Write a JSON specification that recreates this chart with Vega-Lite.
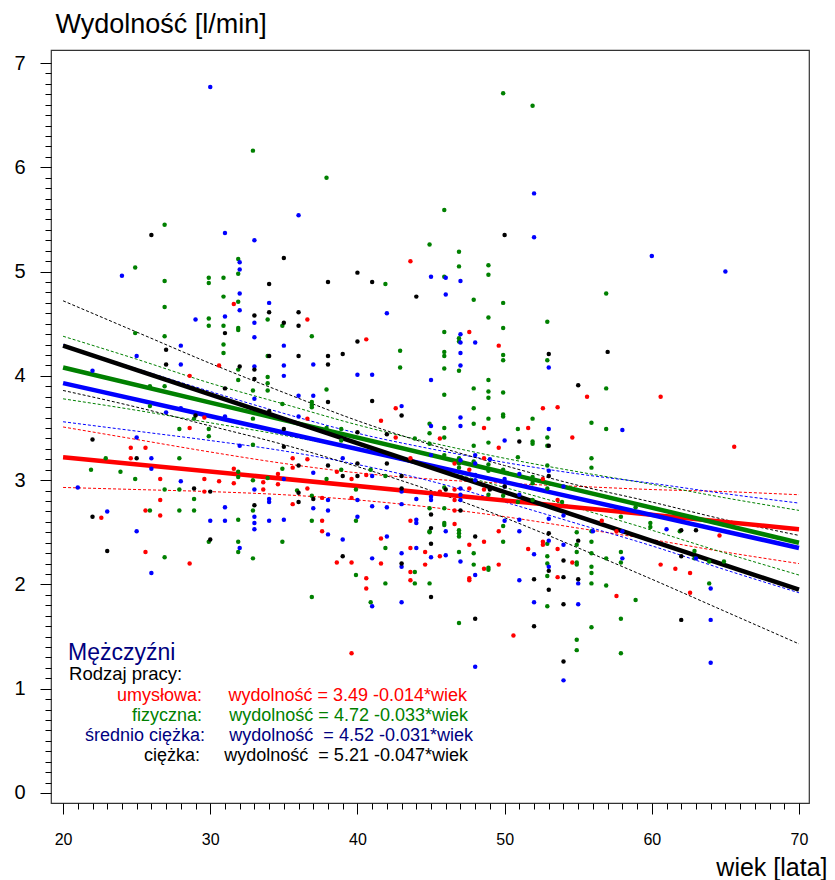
{
  "$schema": "https://vega.github.io/schema/vega-lite/v6.json",
  "width": 758,
  "height": 753,
  "autosize": {"type": "none"},
  "padding": {"left": 51, "top": 50, "right": 26, "bottom": 77},
  "background": "white",
  "config": {
    "view": {"stroke": "#333333", "strokeWidth": 1.2},
    "font": "Liberation Sans",
    "text": {"font": "Liberation Sans"}
  },
  "datasets": {
    "lines": [
      {"g": "u", "w": 20, "v": 3.22}, {"g": "u", "w": 70, "v": 2.53},
      {"g": "f", "w": 20, "v": 4.08}, {"g": "f", "w": 70, "v": 2.40},
      {"g": "s", "w": 20, "v": 3.93}, {"g": "s", "w": 70, "v": 2.35},
      {"g": "c", "w": 20, "v": 4.29}, {"g": "c", "w": 70, "v": 1.95}
    ],
    "bands": [
      {"g":"u","b":"hi","w":20,"v":3.51},{"g":"u","b":"hi","w":25,"v":3.39},{"g":"u","b":"hi","w":30,"v":3.27},{"g":"u","b":"hi","w":35,"v":3.16},{"g":"u","b":"hi","w":40,"v":3.07},{"g":"u","b":"hi","w":45,"v":3.01},{"g":"u","b":"hi","w":50,"v":2.97},{"g":"u","b":"hi","w":55,"v":2.94},{"g":"u","b":"hi","w":60,"v":2.91},{"g":"u","b":"hi","w":65,"v":2.89},{"g":"u","b":"hi","w":70,"v":2.86},
      {"g":"u","b":"lo","w":20,"v":2.93},{"g":"u","b":"lo","w":25,"v":2.91},{"g":"u","b":"lo","w":30,"v":2.89},{"g":"u","b":"lo","w":35,"v":2.86},{"g":"u","b":"lo","w":40,"v":2.81},{"g":"u","b":"lo","w":45,"v":2.74},{"g":"u","b":"lo","w":50,"v":2.65},{"g":"u","b":"lo","w":55,"v":2.54},{"g":"u","b":"lo","w":60,"v":2.43},{"g":"u","b":"lo","w":65,"v":2.31},{"g":"u","b":"lo","w":70,"v":2.20},
      {"g":"f","b":"hi","w":20,"v":4.38},{"g":"f","b":"hi","w":25,"v":4.16},{"g":"f","b":"hi","w":30,"v":3.93},{"g":"f","b":"hi","w":35,"v":3.73},{"g":"f","b":"hi","w":40,"v":3.53},{"g":"f","b":"hi","w":45,"v":3.36},{"g":"f","b":"hi","w":50,"v":3.21},{"g":"f","b":"hi","w":55,"v":3.08},{"g":"f","b":"hi","w":60,"v":2.96},{"g":"f","b":"hi","w":65,"v":2.83},{"g":"f","b":"hi","w":70,"v":2.71},
      {"g":"f","b":"lo","w":20,"v":3.78},{"g":"f","b":"lo","w":25,"v":3.67},{"g":"f","b":"lo","w":30,"v":3.55},{"g":"f","b":"lo","w":35,"v":3.43},{"g":"f","b":"lo","w":40,"v":3.29},{"g":"f","b":"lo","w":45,"v":3.12},{"g":"f","b":"lo","w":50,"v":2.93},{"g":"f","b":"lo","w":55,"v":2.73},{"g":"f","b":"lo","w":60,"v":2.52},{"g":"f","b":"lo","w":65,"v":2.30},{"g":"f","b":"lo","w":70,"v":2.09},
      {"g":"s","b":"hi","w":20,"v":4.30},{"g":"s","b":"hi","w":25,"v":4.07},{"g":"s","b":"hi","w":30,"v":3.85},{"g":"s","b":"hi","w":35,"v":3.64},{"g":"s","b":"hi","w":40,"v":3.45},{"g":"s","b":"hi","w":45,"v":3.30},{"g":"s","b":"hi","w":50,"v":3.17},{"g":"s","b":"hi","w":55,"v":3.06},{"g":"s","b":"hi","w":60,"v":2.97},{"g":"s","b":"hi","w":65,"v":2.87},{"g":"s","b":"hi","w":70,"v":2.78},
      {"g":"s","b":"lo","w":20,"v":3.56},{"g":"s","b":"lo","w":25,"v":3.47},{"g":"s","b":"lo","w":30,"v":3.38},{"g":"s","b":"lo","w":35,"v":3.28},{"g":"s","b":"lo","w":40,"v":3.15},{"g":"s","b":"lo","w":45,"v":2.99},{"g":"s","b":"lo","w":50,"v":2.79},{"g":"s","b":"lo","w":55,"v":2.58},{"g":"s","b":"lo","w":60,"v":2.37},{"g":"s","b":"lo","w":65,"v":2.14},{"g":"s","b":"lo","w":70,"v":1.92},
      {"g":"c","b":"hi","w":20,"v":4.72},{"g":"c","b":"hi","w":25,"v":4.42},{"g":"c","b":"hi","w":30,"v":4.12},{"g":"c","b":"hi","w":35,"v":3.84},{"g":"c","b":"hi","w":40,"v":3.57},{"g":"c","b":"hi","w":45,"v":3.34},{"g":"c","b":"hi","w":50,"v":3.14},{"g":"c","b":"hi","w":55,"v":2.95},{"g":"c","b":"hi","w":60,"v":2.79},{"g":"c","b":"hi","w":65,"v":2.62},{"g":"c","b":"hi","w":70,"v":2.47},
      {"g":"c","b":"lo","w":20,"v":3.86},{"g":"c","b":"lo","w":25,"v":3.70},{"g":"c","b":"lo","w":30,"v":3.52},{"g":"c","b":"lo","w":35,"v":3.34},{"g":"c","b":"lo","w":40,"v":3.13},{"g":"c","b":"lo","w":45,"v":2.90},{"g":"c","b":"lo","w":50,"v":2.64},{"g":"c","b":"lo","w":55,"v":2.35},{"g":"c","b":"lo","w":60,"v":2.05},{"g":"c","b":"lo","w":65,"v":1.74},{"g":"c","b":"lo","w":70,"v":1.43}
    ],
    "points": [
      {"g":"u","w":43.6,"v":5.10},{"g":"u","w":31.6,"v":4.69},{"g":"u","w":36.6,"v":4.54},{"g":"u","w":40.6,"v":4.35},{"g":"u","w":30.6,"v":4.10},{"g":"u","w":28.6,"v":4.00},{"g":"u","w":42.6,"v":3.69},{"g":"u","w":29.6,"v":3.60},{"g":"u","w":36.6,"v":3.59},{"g":"u","w":47.6,"v":4.42},
      {"g":"u","w":49.6,"v":4.29},{"g":"u","w":55.6,"v":3.80},{"g":"u","w":60.6,"v":3.80},{"g":"u","w":52.6,"v":3.69},{"g":"u","w":53.6,"v":3.70},{"g":"u","w":28.6,"v":3.50},{"g":"u","w":24.6,"v":3.31},{"g":"u","w":25.6,"v":3.31},{"g":"u","w":24.6,"v":3.21},{"g":"u","w":31.6,"v":3.11},
      {"g":"u","w":26.6,"v":3.01},{"g":"u","w":29.6,"v":3.01},{"g":"u","w":30.6,"v":2.99},{"g":"u","w":31.6,"v":2.97},{"g":"u","w":29.6,"v":2.89},{"g":"u","w":26.6,"v":2.81},{"g":"u","w":25.6,"v":2.71},{"g":"u","w":26.6,"v":2.66},{"g":"u","w":22.6,"v":2.64},{"g":"u","w":25.6,"v":2.31},
      {"g":"u","w":28.6,"v":2.20},{"g":"u","w":41.6,"v":3.57},{"g":"u","w":42.6,"v":3.41},{"g":"u","w":45.6,"v":3.40},{"g":"u","w":35.6,"v":3.21},{"g":"u","w":36.6,"v":3.20},{"g":"u","w":35.6,"v":3.12},{"g":"u","w":34.6,"v":3.06},{"g":"u","w":38.6,"v":3.08},{"g":"u","w":39.6,"v":3.01},
      {"g":"u","w":40.6,"v":3.05},{"g":"u","w":43.6,"v":3.21},{"g":"u","w":34.6,"v":2.96},{"g":"u","w":33.6,"v":2.98},{"g":"u","w":36.6,"v":2.92},{"g":"u","w":37.6,"v":2.83},{"g":"u","w":35.6,"v":2.77},{"g":"u","w":39.6,"v":2.83},{"g":"u","w":33.6,"v":2.91},{"g":"u","w":37.6,"v":2.61},
      {"g":"u","w":37.6,"v":2.51},{"g":"u","w":43.6,"v":2.61},{"g":"u","w":41.6,"v":2.44},{"g":"u","w":43.6,"v":2.35},{"g":"u","w":44.6,"v":2.31},{"g":"u","w":45.6,"v":2.27},{"g":"u","w":38.6,"v":2.21},{"g":"u","w":39.6,"v":2.21},{"g":"u","w":41.6,"v":2.20},{"g":"u","w":44.6,"v":2.19},
      {"g":"u","w":40.6,"v":2.06},{"g":"u","w":43.6,"v":2.12},{"g":"u","w":43.6,"v":2.04},{"g":"u","w":40.6,"v":1.96},{"g":"u","w":48.6,"v":3.50},{"g":"u","w":51.6,"v":3.50},{"g":"u","w":54.6,"v":3.41},{"g":"u","w":49.6,"v":3.31},{"g":"u","w":46.6,"v":3.16},{"g":"u","w":47.6,"v":3.10},
      {"g":"u","w":48.6,"v":3.21},{"g":"u","w":52.6,"v":3.01},{"g":"u","w":45.6,"v":2.89},{"g":"u","w":46.6,"v":2.91},{"g":"u","w":47.6,"v":2.92},{"g":"u","w":48.6,"v":2.91},{"g":"u","w":53.6,"v":2.81},{"g":"u","w":46.6,"v":2.81},{"g":"u","w":46.6,"v":2.71},{"g":"u","w":56.6,"v":2.61},
      {"g":"u","w":57.6,"v":2.51},{"g":"u","w":46.6,"v":2.58},{"g":"u","w":49.6,"v":2.51},{"g":"u","w":52.6,"v":2.41},{"g":"u","w":52.6,"v":2.38},{"g":"u","w":53.6,"v":2.34},{"g":"u","w":51.6,"v":2.34},{"g":"u","w":48.6,"v":2.41},{"g":"u","w":47.6,"v":2.38},{"g":"u","w":49.6,"v":2.19},
      {"g":"u","w":48.6,"v":2.15},{"g":"u","w":54.6,"v":2.21},{"g":"u","w":53.6,"v":2.07},{"g":"u","w":47.6,"v":2.06},{"g":"u","w":47.6,"v":2.04},{"g":"u","w":57.6,"v":1.89},{"g":"u","w":65.6,"v":3.32},{"g":"u","w":64.6,"v":2.47},{"g":"u","w":60.6,"v":2.19},{"g":"u","w":61.6,"v":2.15},
      {"g":"u","w":62.6,"v":2.11},{"g":"u","w":62.6,"v":1.92},{"g":"u","w":39.6,"v":1.34},{"g":"u","w":50.6,"v":1.51},

      {"g":"f","w":49.9,"v":6.71},{"g":"f","w":51.9,"v":6.59},{"g":"f","w":32.9,"v":6.16},{"g":"f","w":37.9,"v":5.90},{"g":"f","w":45.9,"v":5.59},{"g":"f","w":26.9,"v":5.45},{"g":"f","w":44.9,"v":5.26},{"g":"f","w":46.9,"v":5.19},{"g":"f","w":46.9,"v":5.05},{"g":"f","w":48.9,"v":5.06},
      {"g":"f","w":48.9,"v":4.97},{"g":"f","w":45.9,"v":4.95},{"g":"f","w":47.9,"v":4.73},{"g":"f","w":49.9,"v":4.70},{"g":"f","w":56.9,"v":4.79},{"g":"f","w":48.9,"v":4.56},{"g":"f","w":49.9,"v":4.46},{"g":"f","w":52.9,"v":4.52},{"g":"f","w":45.9,"v":4.42},{"g":"f","w":46.9,"v":4.36},
      {"g":"f","w":46.9,"v":4.33},{"g":"f","w":45.9,"v":4.23},{"g":"f","w":45.9,"v":4.19},{"g":"f","w":49.9,"v":4.20},{"g":"f","w":49.9,"v":4.15},{"g":"f","w":52.9,"v":4.15},{"g":"f","w":45.9,"v":4.07},{"g":"f","w":46.9,"v":4.05},{"g":"f","w":48.9,"v":3.96},{"g":"f","w":47.9,"v":3.88},
      {"g":"f","w":48.9,"v":3.85},{"g":"f","w":48.9,"v":3.79},{"g":"f","w":49.9,"v":3.84},{"g":"f","w":45.9,"v":3.82},{"g":"f","w":56.9,"v":3.88},{"g":"f","w":47.9,"v":3.69},{"g":"f","w":48.9,"v":3.59},{"g":"f","w":49.9,"v":3.63},{"g":"f","w":49.9,"v":3.61},{"g":"f","w":51.9,"v":3.59},
      {"g":"f","w":24.9,"v":5.04},{"g":"f","w":31.9,"v":5.12},{"g":"f","w":31.9,"v":4.98},{"g":"f","w":29.9,"v":4.94},{"g":"f","w":29.9,"v":4.89},{"g":"f","w":30.9,"v":4.94},{"g":"f","w":26.9,"v":4.91},{"g":"f","w":41.9,"v":4.88},{"g":"f","w":26.9,"v":4.66},{"g":"f","w":30.9,"v":4.76},
      {"g":"f","w":31.9,"v":4.71},{"g":"f","w":29.9,"v":4.55},{"g":"f","w":29.9,"v":4.48},{"g":"f","w":30.9,"v":4.48},{"g":"f","w":33.9,"v":4.54},{"g":"f","w":34.9,"v":4.48},{"g":"f","w":36.9,"v":4.38},{"g":"f","w":24.9,"v":4.41},{"g":"f","w":26.9,"v":4.38},{"g":"f","w":31.9,"v":4.46},
      {"g":"f","w":31.9,"v":4.44},{"g":"f","w":42.9,"v":4.24},{"g":"f","w":42.9,"v":4.08},{"g":"f","w":37.9,"v":3.87},{"g":"f","w":33.9,"v":4.19},{"g":"f","w":33.9,"v":3.99},{"g":"f","w":33.9,"v":3.93},{"g":"f","w":33.9,"v":3.86},{"g":"f","w":34.9,"v":3.73},{"g":"f","w":32.9,"v":3.86},
      {"g":"f","w":31.9,"v":4.06},{"g":"f","w":31.9,"v":3.96},{"g":"f","w":30.9,"v":4.30},{"g":"f","w":30.9,"v":4.22},{"g":"f","w":26.9,"v":3.90},{"g":"f","w":25.9,"v":3.71},{"g":"f","w":28.9,"v":3.59},{"g":"f","w":32.9,"v":3.59},{"g":"f","w":36.9,"v":3.75},{"g":"f","w":36.9,"v":3.72},
      {"g":"f","w":36.9,"v":3.70},{"g":"f","w":25.9,"v":3.90},{"g":"f","w":27.9,"v":3.49},{"g":"f","w":29.9,"v":3.49},{"g":"f","w":29.9,"v":3.42},{"g":"f","w":22.9,"v":3.21},{"g":"f","w":27.9,"v":3.21},{"g":"f","w":21.9,"v":3.10},{"g":"f","w":23.9,"v":3.08},{"g":"f","w":31.9,"v":3.08},
      {"g":"f","w":31.9,"v":3.03},{"g":"f","w":24.9,"v":3.01},{"g":"f","w":26.9,"v":2.91},{"g":"f","w":27.9,"v":2.91},{"g":"f","w":28.9,"v":2.82},{"g":"f","w":25.9,"v":2.71},{"g":"f","w":27.9,"v":2.71},{"g":"f","w":28.9,"v":2.71},{"g":"f","w":31.9,"v":2.62},{"g":"f","w":29.9,"v":2.41},
      {"g":"f","w":31.9,"v":2.41},{"g":"f","w":31.9,"v":2.31},{"g":"f","w":26.9,"v":2.26},{"g":"f","w":38.9,"v":3.49},{"g":"f","w":37.9,"v":3.50},{"g":"f","w":43.9,"v":3.40},{"g":"f","w":44.9,"v":3.54},{"g":"f","w":44.9,"v":3.45},{"g":"f","w":44.9,"v":3.35},{"g":"f","w":32.9,"v":3.34},
      {"g":"f","w":38.9,"v":3.38},{"g":"f","w":34.9,"v":3.11},{"g":"f","w":38.9,"v":3.10},{"g":"f","w":37.9,"v":3.01},{"g":"f","w":40.9,"v":3.10},{"g":"f","w":41.9,"v":3.04},{"g":"f","w":32.9,"v":3.00},{"g":"f","w":33.9,"v":3.02},{"g":"f","w":35.9,"v":2.90},{"g":"f","w":36.9,"v":2.85},
      {"g":"f","w":39.9,"v":2.91},{"g":"f","w":32.9,"v":2.71},{"g":"f","w":44.9,"v":2.73},{"g":"f","w":44.9,"v":2.51},{"g":"f","w":44.9,"v":2.50},{"g":"f","w":41.9,"v":2.35},{"g":"f","w":36.9,"v":2.61},{"g":"f","w":34.9,"v":2.41},{"g":"f","w":39.9,"v":2.61},{"g":"f","w":32.9,"v":2.25},
      {"g":"f","w":39.9,"v":2.09},{"g":"f","w":43.9,"v":2.12},{"g":"f","w":43.9,"v":2.01},{"g":"f","w":41.9,"v":2.01},{"g":"f","w":44.9,"v":2.01},{"g":"f","w":36.9,"v":1.88},{"g":"f","w":40.9,"v":1.83},{"g":"f","w":55.9,"v":3.55},{"g":"f","w":56.9,"v":3.49},{"g":"f","w":45.9,"v":3.50},
      {"g":"f","w":47.9,"v":3.54},{"g":"f","w":45.9,"v":3.41},{"g":"f","w":50.9,"v":3.49},{"g":"f","w":52.9,"v":3.41},{"g":"f","w":51.9,"v":3.37},{"g":"f","w":51.9,"v":3.35},{"g":"f","w":52.9,"v":3.33},{"g":"f","w":48.9,"v":3.36},{"g":"f","w":47.9,"v":3.33},{"g":"f","w":55.9,"v":3.21},
      {"g":"f","w":55.9,"v":3.12},{"g":"f","w":45.9,"v":3.24},{"g":"f","w":46.9,"v":3.21},{"g":"f","w":46.9,"v":3.16},{"g":"f","w":46.9,"v":3.12},{"g":"f","w":47.9,"v":3.18},{"g":"f","w":48.9,"v":3.15},{"g":"f","w":48.9,"v":3.09},{"g":"f","w":50.9,"v":3.22},{"g":"f","w":49.9,"v":3.10},
      {"g":"f","w":51.9,"v":3.03},{"g":"f","w":51.9,"v":3.00},{"g":"f","w":51.9,"v":2.97},{"g":"f","w":52.9,"v":3.14},{"g":"f","w":52.9,"v":2.92},{"g":"f","w":45.9,"v":2.93},{"g":"f","w":48.9,"v":2.86},{"g":"f","w":49.9,"v":2.85},{"g":"f","w":50.9,"v":2.79},{"g":"f","w":51.9,"v":2.81},
      {"g":"f","w":53.9,"v":2.79},{"g":"f","w":45.9,"v":2.73},{"g":"f","w":57.9,"v":2.65},{"g":"f","w":55.9,"v":2.51},{"g":"f","w":49.9,"v":2.56},{"g":"f","w":45.9,"v":2.59},{"g":"f","w":45.9,"v":2.57},{"g":"f","w":46.9,"v":2.52},{"g":"f","w":46.9,"v":2.49},{"g":"f","w":46.9,"v":2.46},
      {"g":"f","w":54.9,"v":2.50},{"g":"f","w":55.9,"v":2.41},{"g":"f","w":52.9,"v":2.39},{"g":"f","w":54.9,"v":2.38},{"g":"f","w":54.9,"v":2.31},{"g":"f","w":49.9,"v":2.41},{"g":"f","w":46.9,"v":2.31},{"g":"f","w":47.9,"v":2.30},{"g":"f","w":52.9,"v":2.27},{"g":"f","w":55.9,"v":2.30},
      {"g":"f","w":56.9,"v":2.25},{"g":"f","w":57.9,"v":2.31},{"g":"f","w":47.9,"v":2.19},{"g":"f","w":48.9,"v":2.16},{"g":"f","w":48.9,"v":2.14},{"g":"f","w":52.9,"v":2.20},{"g":"f","w":54.9,"v":2.21},{"g":"f","w":54.9,"v":2.19},{"g":"f","w":55.9,"v":2.17},{"g":"f","w":55.9,"v":2.11},
      {"g":"f","w":52.9,"v":2.08},{"g":"f","w":55.9,"v":2.01},{"g":"f","w":56.9,"v":1.99},{"g":"f","w":52.9,"v":1.79},{"g":"f","w":57.9,"v":1.67},{"g":"f","w":58.9,"v":2.74},{"g":"f","w":59.9,"v":2.59},{"g":"f","w":59.9,"v":2.55},{"g":"f","w":61.9,"v":2.51},{"g":"f","w":62.9,"v":2.32},
      {"g":"f","w":62.9,"v":2.25},{"g":"f","w":63.9,"v":2.22},{"g":"f","w":64.9,"v":2.22},{"g":"f","w":57.9,"v":2.21},{"g":"f","w":63.9,"v":2.01},{"g":"f","w":58.9,"v":1.85},{"g":"f","w":57.9,"v":1.34},{"g":"f","w":46.9,"v":1.63},{"g":"f","w":54.9,"v":1.47},{"g":"f","w":54.9,"v":1.37},
      {"g":"f","w":55.9,"v":1.59},

      {"g":"s","w":30.0,"v":6.77},{"g":"s","w":52.0,"v":5.75},{"g":"s","w":36.0,"v":5.54},{"g":"s","w":31.0,"v":5.37},{"g":"s","w":33.0,"v":5.30},{"g":"s","w":52.0,"v":5.33},{"g":"s","w":60.0,"v":5.15},{"g":"s","w":65.0,"v":5.00},{"g":"s","w":24.0,"v":4.96},{"g":"s","w":32.0,"v":5.09},
      {"g":"s","w":32.0,"v":5.02},{"g":"s","w":45.0,"v":4.95},{"g":"s","w":46.0,"v":4.94},{"g":"s","w":47.0,"v":4.91},{"g":"s","w":46.0,"v":4.78},{"g":"s","w":32.0,"v":4.79},{"g":"s","w":34.0,"v":4.70},{"g":"s","w":32.0,"v":4.63},{"g":"s","w":29.0,"v":4.54},{"g":"s","w":31.0,"v":4.57},
      {"g":"s","w":33.0,"v":4.51},{"g":"s","w":42.0,"v":4.60},{"g":"s","w":33.0,"v":4.37},{"g":"s","w":47.0,"v":4.40},{"g":"s","w":47.0,"v":4.32},{"g":"s","w":48.0,"v":4.32},{"g":"s","w":47.0,"v":4.22},{"g":"s","w":53.0,"v":4.08},{"g":"s","w":47.0,"v":4.10},{"g":"s","w":45.0,"v":3.96},
      {"g":"s","w":43.0,"v":3.71},{"g":"s","w":40.0,"v":4.01},{"g":"s","w":41.0,"v":4.01},{"g":"s","w":37.0,"v":4.11},{"g":"s","w":37.0,"v":3.81},{"g":"s","w":36.0,"v":3.81},{"g":"s","w":35.0,"v":4.29},{"g":"s","w":35.0,"v":4.10},{"g":"s","w":35.0,"v":4.00},{"g":"s","w":33.0,"v":4.09},
      {"g":"s","w":33.0,"v":3.78},{"g":"s","w":28.0,"v":4.29},{"g":"s","w":28.0,"v":4.11},{"g":"s","w":25.0,"v":4.19},{"g":"s","w":22.0,"v":4.05},{"g":"s","w":27.0,"v":3.65},{"g":"s","w":28.0,"v":3.69},{"g":"s","w":31.0,"v":3.61},{"g":"s","w":36.0,"v":3.61},{"g":"s","w":47.0,"v":3.60},
      {"g":"s","w":25.0,"v":3.41},{"g":"s","w":32.0,"v":3.33},{"g":"s","w":26.0,"v":3.21},{"g":"s","w":26.0,"v":3.11},{"g":"s","w":28.0,"v":2.99},{"g":"s","w":21.0,"v":2.93},{"g":"s","w":31.0,"v":2.74},{"g":"s","w":23.0,"v":2.70},{"g":"s","w":30.0,"v":2.61},{"g":"s","w":31.0,"v":2.61},
      {"g":"s","w":25.0,"v":2.51},{"g":"s","w":32.0,"v":2.35},{"g":"s","w":26.0,"v":2.11},{"g":"s","w":45.0,"v":3.52},{"g":"s","w":39.0,"v":3.21},{"g":"s","w":37.0,"v":3.07},{"g":"s","w":41.0,"v":3.04},{"g":"s","w":35.0,"v":3.01},{"g":"s","w":38.0,"v":2.81},{"g":"s","w":37.0,"v":2.73},
      {"g":"s","w":38.0,"v":2.71},{"g":"s","w":40.0,"v":2.81},{"g":"s","w":33.0,"v":2.91},{"g":"s","w":34.0,"v":2.82},{"g":"s","w":34.0,"v":2.79},{"g":"s","w":33.0,"v":2.65},{"g":"s","w":33.0,"v":2.59},{"g":"s","w":33.0,"v":2.53},{"g":"s","w":34.0,"v":2.61},{"g":"s","w":35.0,"v":2.62},
      {"g":"s","w":38.0,"v":2.48},{"g":"s","w":39.0,"v":2.43},{"g":"s","w":40.0,"v":2.65},{"g":"s","w":41.0,"v":2.75},{"g":"s","w":42.0,"v":2.74},{"g":"s","w":43.0,"v":2.77},{"g":"s","w":43.0,"v":2.89},{"g":"s","w":44.0,"v":2.82},{"g":"s","w":45.0,"v":2.81},{"g":"s","w":44.0,"v":2.62},
      {"g":"s","w":44.0,"v":2.59},{"g":"s","w":42.0,"v":2.46},{"g":"s","w":43.0,"v":2.30},{"g":"s","w":44.0,"v":2.35},{"g":"s","w":45.0,"v":2.26},{"g":"s","w":41.0,"v":2.25},{"g":"s","w":43.0,"v":2.17},{"g":"s","w":43.0,"v":1.83},{"g":"s","w":41.0,"v":1.79},{"g":"s","w":58.0,"v":3.48},
      {"g":"s","w":47.0,"v":3.52},{"g":"s","w":53.0,"v":3.49},{"g":"s","w":50.0,"v":3.38},{"g":"s","w":45.0,"v":3.24},{"g":"s","w":47.0,"v":3.19},{"g":"s","w":48.0,"v":3.24},{"g":"s","w":48.0,"v":3.16},{"g":"s","w":49.0,"v":3.20},{"g":"s","w":51.0,"v":3.06},{"g":"s","w":50.0,"v":3.01},
      {"g":"s","w":53.0,"v":3.09},{"g":"s","w":54.0,"v":2.94},{"g":"s","w":48.0,"v":3.05},{"g":"s","w":48.0,"v":3.00},{"g":"s","w":47.0,"v":2.92},{"g":"s","w":45.0,"v":2.84},{"g":"s","w":50.0,"v":2.94},{"g":"s","w":47.0,"v":2.86},{"g":"s","w":47.0,"v":2.81},{"g":"s","w":51.0,"v":2.86},
      {"g":"s","w":53.0,"v":2.63},{"g":"s","w":54.0,"v":2.66},{"g":"s","w":56.0,"v":2.51},{"g":"s","w":58.0,"v":2.51},{"g":"s","w":51.0,"v":2.62},{"g":"s","w":50.0,"v":2.61},{"g":"s","w":46.0,"v":2.51},{"g":"s","w":51.0,"v":2.51},{"g":"s","w":53.0,"v":2.42},{"g":"s","w":54.0,"v":2.38},
      {"g":"s","w":46.0,"v":2.28},{"g":"s","w":52.0,"v":2.29},{"g":"s","w":58.0,"v":2.25},{"g":"s","w":47.0,"v":2.22},{"g":"s","w":53.0,"v":2.17},{"g":"s","w":55.0,"v":2.01},{"g":"s","w":48.0,"v":2.09},{"g":"s","w":51.0,"v":2.04},{"g":"s","w":52.0,"v":1.83},{"g":"s","w":55.0,"v":1.81},
      {"g":"s","w":61.0,"v":2.53},{"g":"s","w":63.0,"v":2.25},{"g":"s","w":64.0,"v":1.96},{"g":"s","w":64.0,"v":1.66},{"g":"s","w":48.0,"v":1.21},{"g":"s","w":54.0,"v":1.08},{"g":"s","w":64.0,"v":1.25},

      {"g":"c","w":26.0,"v":5.35},{"g":"c","w":50.0,"v":5.35},{"g":"c","w":35.0,"v":5.13},{"g":"c","w":34.0,"v":4.88},{"g":"c","w":38.0,"v":4.90},{"g":"c","w":40.0,"v":4.99},{"g":"c","w":41.0,"v":4.90},{"g":"c","w":44.0,"v":4.76},{"g":"c","w":33.0,"v":4.58},{"g":"c","w":34.0,"v":4.61},
      {"g":"c","w":35.0,"v":4.51},{"g":"c","w":36.0,"v":4.61},{"g":"c","w":36.0,"v":4.48},{"g":"c","w":31.0,"v":4.41},{"g":"c","w":40.0,"v":4.33},{"g":"c","w":43.0,"v":3.62},{"g":"c","w":41.0,"v":3.76},{"g":"c","w":39.0,"v":4.21},{"g":"c","w":38.0,"v":4.19},{"g":"c","w":38.0,"v":4.11},
      {"g":"c","w":38.0,"v":3.75},{"g":"c","w":36.0,"v":4.19},{"g":"c","w":34.0,"v":4.19},{"g":"c","w":34.0,"v":3.66},{"g":"c","w":33.0,"v":4.06},{"g":"c","w":33.0,"v":3.97},{"g":"c","w":32.0,"v":4.09},{"g":"c","w":31.0,"v":3.88},{"g":"c","w":27.0,"v":4.25},{"g":"c","w":27.0,"v":4.11},
      {"g":"c","w":29.0,"v":3.62},{"g":"c","w":53.0,"v":4.21},{"g":"c","w":57.0,"v":4.23},{"g":"c","w":55.0,"v":3.91},{"g":"c","w":22.0,"v":3.39},{"g":"c","w":25.0,"v":3.21},{"g":"c","w":28.9,"v":2.92},{"g":"c","w":30.0,"v":2.89},{"g":"c","w":22.0,"v":2.65},{"g":"c","w":30.0,"v":2.43},
      {"g":"c","w":23.0,"v":2.32},{"g":"c","w":35.0,"v":3.49},{"g":"c","w":40.0,"v":3.46},{"g":"c","w":42.0,"v":3.44},{"g":"c","w":35.0,"v":3.32},{"g":"c","w":42.0,"v":3.16},{"g":"c","w":36.0,"v":3.14},{"g":"c","w":38.0,"v":3.14},{"g":"c","w":39.0,"v":3.04},{"g":"c","w":40.0,"v":3.04},
      {"g":"c","w":40.0,"v":3.16},{"g":"c","w":43.0,"v":3.04},{"g":"c","w":36.0,"v":2.88},{"g":"c","w":37.0,"v":2.82},{"g":"c","w":36.0,"v":2.79},{"g":"c","w":33.0,"v":2.76},{"g":"c","w":43.0,"v":2.92},{"g":"c","w":45.0,"v":2.67},{"g":"c","w":45.0,"v":2.54},{"g":"c","w":45.0,"v":2.39},
      {"g":"c","w":39.0,"v":2.27},{"g":"c","w":43.0,"v":2.20},{"g":"c","w":45.0,"v":1.88},{"g":"c","w":51.0,"v":3.37},{"g":"c","w":53.0,"v":3.33},{"g":"c","w":53.0,"v":3.04},{"g":"c","w":46.0,"v":2.91},{"g":"c","w":49.0,"v":2.91},{"g":"c","w":50.0,"v":2.94},{"g":"c","w":47.0,"v":2.71},
      {"g":"c","w":48.0,"v":2.46},{"g":"c","w":53.0,"v":2.49},{"g":"c","w":55.0,"v":2.42},{"g":"c","w":54.0,"v":2.23},{"g":"c","w":53.0,"v":2.13},{"g":"c","w":54.0,"v":2.07},{"g":"c","w":55.0,"v":2.05},{"g":"c","w":52.0,"v":2.05},{"g":"c","w":53.0,"v":1.95},{"g":"c","w":54.0,"v":1.81},
      {"g":"c","w":48.0,"v":1.67},{"g":"c","w":62.0,"v":2.52},{"g":"c","w":63.0,"v":2.52},{"g":"c","w":62.0,"v":2.27},{"g":"c","w":62.0,"v":1.66},{"g":"c","w":54.0,"v":1.26},{"g":"c","w":52.0,"v":1.60}
    ]
  },
  "layer": [
    {
      "data": {"name": "bands"},
      "mark": {"type": "line", "strokeWidth": 1, "strokeDash": [3, 2], "interpolate": "monotone"},
      "encoding": {
        "x": {
          "field": "w", "type": "quantitative",
          "scale": {"domain": [19.18, 70.68], "nice": false, "zero": false},
          "axis": {
            "values": [20,21,22,23,24,25,26,27,28,29,30,31,32,33,34,35,36,37,38,39,40,41,42,43,44,45,46,47,48,49,50,51,52,53,54,55,56,57,58,59,60,61,62,63,64,65,66,67,68,69,70],
            "tickCount": 500,
            "labelExpr": "datum.value % 10 === 0 ? format(datum.value, 'd') : ''",
            "tickSize": {"condition": {"test": "datum.value % 10 === 0", "value": 11}, "value": 6},
            "tickColor": "#000000", "tickWidth": 1,
            "domain": false, "grid": false,
            "labelFont": "Liberation Sans", "labelFontSize": 16, "labelColor": "#000000",
            "labelPadding": 17, "labelOverlap": false, "labelFlush": false, "labelBound": false,
            "title": "wiek [lata]", "titleFont": "Liberation Sans", "titleFontSize": 25, "titleFontWeight": "normal", "titleColor": "#000000",
            "titleAlign": "right", "titleAnchor": null, "titleBaseline": "alphabetic", "titleX": 776, "titleY": 72
          }
        },
        "y": {
          "field": "v", "type": "quantitative",
          "scale": {"domain": [-0.096, 7.125], "nice": false, "zero": false},
          "axis": {
            "values": [0,0.1,0.2,0.3,0.4,0.5,0.6,0.7,0.8,0.9,1,1.1,1.2,1.3,1.4,1.5,1.6,1.7,1.8,1.9,2,2.1,2.2,2.3,2.4,2.5,2.6,2.7,2.8,2.9,3,3.1,3.2,3.3,3.4,3.5,3.6,3.7,3.8,3.9,4,4.1,4.2,4.3,4.4,4.5,4.6,4.7,4.8,4.9,5,5.1,5.2,5.3,5.4,5.5,5.6,5.7,5.8,5.9,6,6.1,6.2,6.3,6.4,6.5,6.6,6.7,6.8,6.9,7],
            "tickCount": 500,
            "labelExpr": "datum.value % 1 === 0 ? format(datum.value, 'd') : ''",
            "tickSize": {"condition": {"test": "datum.value % 1 === 0", "value": 11}, "value": 6},
            "tickColor": "#000000", "tickWidth": 1,
            "domain": false, "grid": false,
            "labelFont": "Liberation Sans", "labelFontSize": 20, "labelColor": "#000000",
            "labelPadding": 15, "labelOverlap": false, "labelFlush": false, "labelBound": false,
            "title": "Wydolność [l/min]", "titleFont": "Liberation Sans", "titleFontSize": 27, "titleFontWeight": "normal", "titleColor": "#000000",
            "titleAngle": 0, "titleAlign": "left", "titleAnchor": null, "titleBaseline": "alphabetic", "titleX": 4, "titleY": -18
          }
        },
        "color": {
          "field": "g", "type": "nominal",
          "scale": {"domain": ["u", "f", "s", "c"], "range": ["#FF0000", "#008000", "#0000FF", "#000000"]},
          "legend": null
        },
        "detail": {"field": "b"}
      }
    },
    {
      "data": {"name": "lines"},
      "mark": {"type": "line", "strokeWidth": 4.5},
      "encoding": {
        "x": {"field": "w", "type": "quantitative"},
        "y": {"field": "v", "type": "quantitative"},
        "color": {"field": "g", "type": "nominal", "legend": null}
      }
    },
    {
      "data": {"name": "points"},
      "mark": {"type": "circle", "size": 20, "opacity": 1},
      "encoding": {
        "x": {"field": "w", "type": "quantitative"},
        "y": {"field": "v", "type": "quantitative"},
        "color": {"field": "g", "type": "nominal", "legend": null}
      }
    },
    {
      "data": {"values": [{"t": "Mężczyźni"}]},
      "mark": {"type": "text", "align": "left", "baseline": "alphabetic", "fontSize": 23, "color": "#000080"},
      "encoding": {"x": {"datum": 20.34}, "y": {"datum": 1.275}, "text": {"field": "t"}}
    },
    {
      "data": {"values": [{"t": "Rodzaj pracy:"}]},
      "mark": {"type": "text", "align": "left", "baseline": "alphabetic", "fontSize": 18.5, "color": "#000000"},
      "encoding": {"x": {"datum": 20.41}, "y": {"datum": 1.083}, "text": {"field": "t"}}
    },
    {
      "data": {"values": [{"t": "umysłowa:"}]},
      "mark": {"type": "text", "align": "right", "baseline": "alphabetic", "fontSize": 18, "color": "#FF0000"},
      "encoding": {"x": {"datum": 29.44}, "y": {"datum": 0.882}, "text": {"field": "t"}}
    },
    {
      "data": {"values": [{"t": "wydolność = 3.49 -0.014*wiek"}]},
      "mark": {"type": "text", "align": "right", "baseline": "alphabetic", "fontSize": 18, "color": "#FF0000"},
      "encoding": {"x": {"datum": 47.45}, "y": {"datum": 0.882}, "text": {"field": "t"}}
    },
    {
      "data": {"values": [{"t": "fizyczna:"}]},
      "mark": {"type": "text", "align": "right", "baseline": "alphabetic", "fontSize": 18, "color": "#008000"},
      "encoding": {"x": {"datum": 29.44}, "y": {"datum": 0.69}, "text": {"field": "t"}}
    },
    {
      "data": {"values": [{"t": "wydolność = 4.72 -0.033*wiek"}]},
      "mark": {"type": "text", "align": "right", "baseline": "alphabetic", "fontSize": 18, "color": "#008000"},
      "encoding": {"x": {"datum": 47.51}, "y": {"datum": 0.69}, "text": {"field": "t"}}
    },
    {
      "data": {"values": [{"t": "średnio ciężka:"}]},
      "mark": {"type": "text", "align": "right", "baseline": "alphabetic", "fontSize": 18, "color": "#000080"},
      "encoding": {"x": {"datum": 29.65}, "y": {"datum": 0.499}, "text": {"field": "t"}}
    },
    {
      "data": {"values": [{"t": "wydolność\u00a0 = 4.52 -0.031*wiek"}]},
      "mark": {"type": "text", "align": "right", "baseline": "alphabetic", "fontSize": 18, "color": "#000080"},
      "encoding": {"x": {"datum": 47.85}, "y": {"datum": 0.499}, "text": {"field": "t"}}
    },
    {
      "data": {"values": [{"t": "ciężka:"}]},
      "mark": {"type": "text", "align": "right", "baseline": "alphabetic", "fontSize": 18, "color": "#000000"},
      "encoding": {"x": {"datum": 29.31}, "y": {"datum": 0.307}, "text": {"field": "t"}}
    },
    {
      "data": {"values": [{"t": "wydolność\u00a0 = 5.21 -0.047*wiek"}]},
      "mark": {"type": "text", "align": "right", "baseline": "alphabetic", "fontSize": 18, "color": "#000000"},
      "encoding": {"x": {"datum": 47.51}, "y": {"datum": 0.307}, "text": {"field": "t"}}
    }
  ]
}
